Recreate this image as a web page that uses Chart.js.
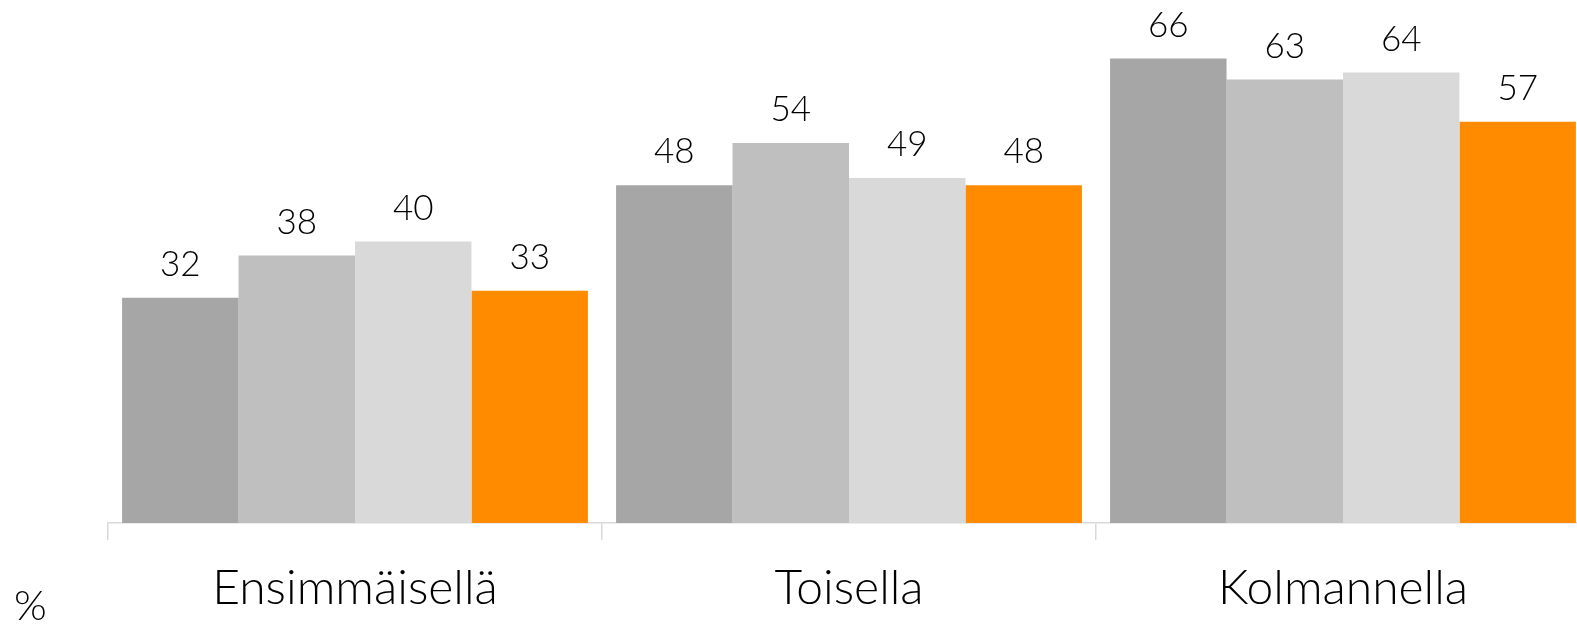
<!DOCTYPE html>
<html>
<head>
<meta charset="utf-8">
<script src="https://cdn.jsdelivr.net/npm/chart.js@4/dist/chart.umd.min.js"></script>
<style>
  html, body { margin: 0; padding: 0; background: #fff; overflow: hidden; }
  #wrap { position: relative; width: 1592px; height: 627px; }
</style>
</head>
<body>
<div id="wrap"><canvas id="grafico"></canvas></div>
<script>
const kategoriat = ['Ensimmäisellä', 'Toisella', 'Kolmannella'];
const sarja1 = [32, 48, 66];
const sarja2 = [38, 54, 63];
const sarja3 = [40, 49, 64];
const sarja4 = [33, 48, 57];
const varit = ['#A6A6A6', '#BFBFBF', '#D9D9D9', '#FF8C00'];
const fontti = 'Lato, "Open Sans", sans-serif';

// arvot pylväiden yläpuolelle
const arvoLabelit = {
  id: 'arvoLabelit',
  afterDatasetsDraw(chart) {
    const ctx = chart.ctx;
    ctx.save();
    ctx.font = '300 35px ' + fontti;
    ctx.fillStyle = '#000';
    ctx.textAlign = 'center';
    ctx.textBaseline = 'middle';
    chart.data.datasets.forEach((ds, i) => {
      chart.getDatasetMeta(i).data.forEach((bar, j) => {
        ctx.fillText(ds.data[j], bar.x, bar.y - 33);
      });
    });
    // yksikkö vasempaan alakulmaan
    ctx.font = '300 42px ' + fontti;
    ctx.textAlign = 'left';
    ctx.fillText('%', 14, 606);
    ctx.restore();
  }
};

new Chart(document.getElementById('grafico').getContext('2d'), {
  type: 'bar',
  data: {
    labels: kategoriat,
    datasets: [
      { data: sarja1, backgroundColor: varit[0] },
      { data: sarja2, backgroundColor: varit[1] },
      { data: sarja3, backgroundColor: varit[2] },
      { data: sarja4, backgroundColor: varit[3] }
    ]
  },
  options: {
    responsive: true,
    maintainAspectRatio: false,
    animation: false,
    layout: { padding: { left: 108, right: 2, top: 0, bottom: 0 } },
    datasets: { bar: { categoryPercentage: 0.943, barPercentage: 1.0 } },
    plugins: { legend: { display: false }, tooltip: { enabled: false } },
    scales: {
      x: {
        grid: { offset: true, drawOnChartArea: false, tickLength: 17, color: '#D9D9D9', lineWidth: 1.5 },
        border: { color: '#D9D9D9', width: 1.5 },
        ticks: { color: '#000', font: { family: fontti, size: 48, weight: '300' }, padding: 20 },
        afterFit(scale) { scale.height = 104; }
      },
      y: { display: false, min: 0, max: 74.3 }
    }
  },
  plugins: [arvoLabelit]
});
</script>
</body>
</html>
